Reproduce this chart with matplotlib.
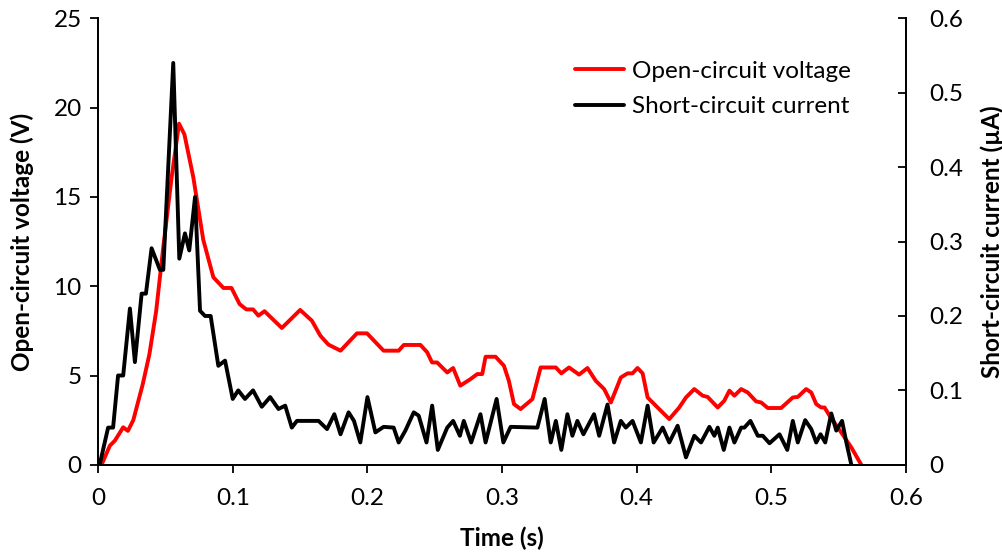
import matplotlib.pyplot as plt

plt.rcParams['font.family'] = ['Lato', 'DejaVu Sans']

# open-circuit voltage (V) vs time (s)
t_v = [0.0024, 0.0086, 0.0123, 0.0185, 0.022, 0.026, 0.033, 0.038, 0.043, 0.048,
       0.0545, 0.060, 0.064, 0.0706, 0.078, 0.0855, 0.093, 0.099, 0.105, 0.110,
       0.115, 0.119, 0.1235, 0.1364, 0.150, 0.1587, 0.165, 0.171, 0.180, 0.1922,
       0.1997, 0.212, 0.2232, 0.227, 0.2394, 0.2444, 0.248, 0.2518, 0.2593, 0.2637,
       0.269, 0.2766, 0.2816, 0.2853, 0.2878, 0.2952, 0.3014, 0.3051, 0.3089, 0.3138,
       0.3226, 0.3287, 0.34, 0.3441, 0.3498, 0.3573, 0.3635, 0.3697, 0.3759, 0.3809,
       0.3883, 0.3933, 0.397, 0.4007, 0.4045, 0.4082, 0.4156, 0.4243, 0.4317, 0.4367,
       0.4429, 0.4491, 0.4528, 0.4603, 0.4652, 0.469, 0.4727, 0.4777, 0.4826, 0.4888,
       0.4926, 0.4975, 0.5074, 0.5161, 0.5198, 0.526, 0.5298, 0.5335, 0.5372, 0.5397,
       0.5434, 0.5521, 0.5596, 0.567]
voltage = [0.0, 1.07, 1.35, 2.1, 1.9, 2.5, 4.5, 6.2, 8.6, 12.0,
           16.1, 19.1, 18.5, 16.1, 12.6, 10.5, 9.9, 9.9, 9.0, 8.7,
           8.7, 8.35, 8.6, 7.66, 8.67, 8.07, 7.23, 6.73, 6.39, 7.36,
           7.36, 6.39, 6.39, 6.71, 6.71, 6.3, 5.73, 5.73, 5.17, 5.42,
           4.43, 4.8, 5.08, 5.08, 6.05, 6.05, 5.55, 4.7, 3.4, 3.12,
           3.68, 5.45, 5.45, 5.12, 5.45, 5.05, 5.42, 4.7, 4.24, 3.49,
           4.89, 5.12, 5.12, 5.42, 5.12, 3.77, 3.21, 2.56, 3.21, 3.77,
           4.24, 3.87, 3.8, 3.21, 3.59, 4.15, 3.87, 4.24, 4.05, 3.55,
           3.49, 3.18, 3.18, 3.77, 3.8, 4.24, 4.05, 3.4, 3.21, 3.21,
           2.75, 1.81, 0.97, 0.0]

# short-circuit current (uA) vs time (s)
t_i = [0.001, 0.0073, 0.011, 0.0147, 0.0185, 0.0235, 0.0272, 0.0322, 0.0354, 0.0396,
       0.0458, 0.0483, 0.0557, 0.0602, 0.0644, 0.0676, 0.0719, 0.0756, 0.0793, 0.0835,
       0.0892, 0.0942, 0.0999, 0.104, 0.109, 0.115, 0.1215, 0.1277, 0.1339, 0.1389,
       0.1438, 0.1476, 0.1637, 0.170, 0.1754, 0.180, 0.186, 0.190, 0.1947, 0.200,
       0.2059, 0.212, 0.2195, 0.2232, 0.2282, 0.2344, 0.2381, 0.2439, 0.2481, 0.2523,
       0.2593, 0.2637, 0.2687, 0.2716, 0.2771, 0.284, 0.2878, 0.296, 0.301, 0.3064,
       0.3263, 0.3317, 0.3362, 0.340, 0.3441, 0.3486, 0.3523, 0.356, 0.3605, 0.3684,
       0.3722, 0.3784, 0.3833, 0.3883, 0.392, 0.397, 0.4032, 0.4082, 0.4127, 0.4194,
       0.4243, 0.4305, 0.4367, 0.4429, 0.4479, 0.4541, 0.4578, 0.4603, 0.4648, 0.469,
       0.4727, 0.4777, 0.4801, 0.4846, 0.4901, 0.4938, 0.4988, 0.5062, 0.512, 0.5161,
       0.5198, 0.5253, 0.5298, 0.5335, 0.5367, 0.5402, 0.5447, 0.5484, 0.5527, 0.5559,
       0.5596]
current = [0.0, 0.05, 0.05, 0.12, 0.12, 0.21, 0.138, 0.23, 0.23, 0.291,
           0.262, 0.262, 0.540, 0.277, 0.311, 0.288, 0.360, 0.207, 0.20, 0.20,
           0.133, 0.14, 0.0885, 0.10, 0.0885, 0.10, 0.078, 0.091, 0.075, 0.0795,
           0.05, 0.059, 0.059, 0.048, 0.068, 0.041, 0.0705, 0.059, 0.030, 0.091,
           0.0435, 0.051, 0.050, 0.030, 0.046, 0.0705, 0.066, 0.030, 0.0795, 0.020,
           0.050, 0.059, 0.039, 0.059, 0.030, 0.068, 0.030, 0.0885, 0.030, 0.051,
           0.050, 0.0885, 0.030, 0.059, 0.020, 0.068, 0.039, 0.059, 0.041, 0.068,
           0.039, 0.081, 0.030, 0.059, 0.050, 0.059, 0.030, 0.0795, 0.030, 0.050,
           0.030, 0.0525, 0.010, 0.039, 0.030, 0.051, 0.039, 0.050, 0.020, 0.050,
           0.030, 0.050, 0.050, 0.059, 0.039, 0.039, 0.029, 0.041, 0.020, 0.059,
           0.030, 0.060, 0.048, 0.030, 0.041, 0.030, 0.069, 0.046, 0.059, 0.030,
           0.0]

x_ticks = [0, 0.1, 0.2, 0.3, 0.4, 0.5, 0.6]
x_labels = ['0', '0.1', '0.2', '0.3', '0.4', '0.5', '0.6']
v_ticks = [0, 5, 10, 15, 20, 25]
i_ticks = [0, 0.1, 0.2, 0.3, 0.4, 0.5, 0.6]
i_labels = ['0', '0.1', '0.2', '0.3', '0.4', '0.5', '0.6']

fs = 17.5

fig = plt.figure(figsize=(10.03, 5.54), dpi=100)
ax = fig.add_axes([0.098, 0.161, 0.805, 0.806])
ax2 = ax.twinx()

l1, = ax.plot(t_v, voltage, color='#ff0000', lw=2.8, solid_joinstyle='round',
              solid_capstyle='round', label='Open-circuit voltage')
l2, = ax2.plot(t_i, current, color='black', lw=2.8, solid_joinstyle='round',
               solid_capstyle='round', label='Short-circuit current')

ax.set_xlim(0, 0.6)
ax.set_ylim(0, 25)
ax2.set_ylim(0, 0.6)
ax.set_xticks(x_ticks)
ax.set_xticklabels(x_labels)
ax.set_yticks(v_ticks)
ax2.set_yticks(i_ticks)
ax2.set_yticklabels(i_labels)

for a in (ax, ax2):
    for s in a.spines.values():
        s.set_linewidth(1.3)
    a.spines['top'].set_visible(False)
ax.tick_params(axis='x', labelsize=fs, length=6, width=1.3, direction='out', pad=11)
ax.tick_params(axis='y', labelsize=fs, length=6, width=1.3, direction='out', pad=6)
ax2.tick_params(axis='y', labelsize=fs, length=6, width=1.3, direction='in', pad=17)

ax.set_xlabel('Time (s)', fontsize=fs, fontweight='bold', labelpad=12)
ax.set_ylabel('Open-circuit voltage (V)', fontsize=fs, fontweight='bold', labelpad=14)
ax2.set_ylabel('Short-circuit current (\u00b5A)', fontsize=fs, fontweight='bold', labelpad=12)

ax.legend(handles=[l1, l2], loc='upper left', bbox_to_anchor=(0.59, 0.905),
          frameon=False, fontsize=fs, handlelength=2.05, handletextpad=0.3,
          labelspacing=0.6, borderaxespad=0, borderpad=0)

fig.savefig('out.png', dpi=100)
